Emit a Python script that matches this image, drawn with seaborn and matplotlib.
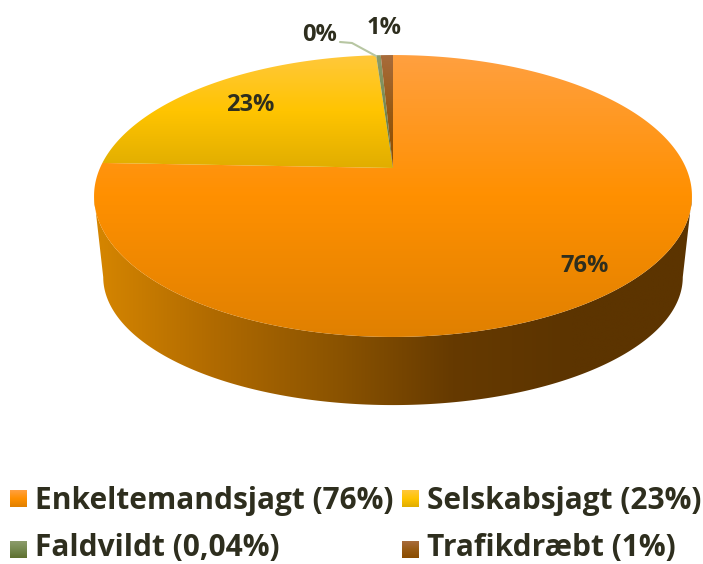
#!/usr/bin/env python
# -*- coding: utf-8 -*-
"""
3D pie of hunting categories
"""
import numpy as np
import matplotlib
matplotlib.use('Agg')
import matplotlib.pyplot as plt
from matplotlib.patches import Polygon
import seaborn as sns

# wedge sizes (clockwise from 12 o'clock)
categories = ['Enkeltemandsjagt', 'Selskabsjagt', 'Faldvildt', 'Trafikdræbt']
shares = [75.6, 23.3, 0.3, 0.8]
pie_labels = ['76%', '23%', '0%', '1%']
legend_labels = ['Enkeltemandsjagt (76%)', 'Selskabsjagt (23%)',
                 'Faldvildt (0,04%)', 'Trafikdræbt (1%)']

# top / middle / bottom of the gradient of each wedge
top_colors = [
    ['#FFA040', '#FF9000', '#E08000'],
    ['#FFC83C', '#FFC400', '#E0AD00'],
    ['#8C9C6C', '#75894F', '#5E7030'],
    ['#A86C3C', '#985A14', '#8A4C00'],
]
wall_colors = ['#D68600', '#B06A00', '#8C5400', '#663A00', '#5C3400', '#5C3400']
TEXT = '#2E2E1E'

sns.set_theme(style='white')
plt.rcParams['font.family'] = ['Open Sans', 'DejaVu Sans']

f = plt.figure(figsize=(7.03, 5.64), dpi=100)
ax = f.add_axes([0, 0, 1, 1])
ax.set_xlim(0, 703)
ax.set_ylim(564, 0)
ax.axis('off')

CX = 393
PERSP = 0.1986


def project(theta, apex_y, rx, ry):
    # theta clockwise from the top, perspective squeezes the far side
    u, v = np.sin(theta), np.cos(theta)
    w = 1 + PERSP * v
    return CX + rx * u / w, apex_y - ry * v / w


def fill_gradient(poly, colors, extent, horizontal=False):
    cmap = sns.blend_palette(colors, n_colors=256, as_cmap=True)
    ramp = np.linspace(0, 1, 256)
    ramp = ramp[None, :] if horizontal else ramp[:, None]
    im = ax.imshow(ramp, cmap=cmap, vmin=0, vmax=1, extent=extent,
                   aspect='auto', interpolation='bilinear', zorder=2)
    patch = Polygon(poly, closed=True, transform=ax.transData,
                    facecolor='none', edgecolor='none')
    ax.add_patch(patch)
    im.set_clip_path(patch)


TOP = dict(apex_y=168, rx=293, ry=135.4)
BOTTOM = dict(apex_y=251.6, rx=284, ry=123)

# side wall, only the front part shows
t_front = np.radians(np.linspace(101.5, 258.5, 300))
xt, yt = project(t_front, **TOP)
xb, yb = project(t_front, **BOTTOM)
wall = np.column_stack([np.r_[xt, xb[::-1]], np.r_[yt, yb[::-1]]])
fill_gradient(wall, wall_colors, (94, 692, 420, 150), horizontal=True)

# top surface
edges = np.radians(np.r_[0, np.cumsum(shares)] * 3.6)
for i, colors in enumerate(top_colors):
    t = np.linspace(edges[i], edges[i + 1], 400)
    xs, ys = project(t, **TOP)
    poly = np.column_stack([np.r_[CX, xs], np.r_[TOP['apex_y'], ys]])
    fill_gradient(poly, colors,
                  (poly[:, 0].min() - 1, poly[:, 0].max() + 1,
                   poly[:, 1].max() + 1, poly[:, 1].min() - 1))

ax.set_xlim(0, 703)
ax.set_ylim(564, 0)

# data labels
label_pos = [(585, 266), (250, 105), (320, 35), (384, 28)]
for (x, y), txt in zip(label_pos, pie_labels):
    ax.text(x, y, txt, ha='center', va='center', fontsize=17,
            fontweight='bold', color=TEXT, zorder=5)
ax.plot([340, 352, 376], [42, 43, 56], color='#B7C6A2', lw=1.5, zorder=4)

# legend, second row sits a bit higher so the parentheses stay inside
legend_swatch = [(10, 490), (402, 490), (10, 541), (402, 541)]
legend_baseline = [509, 509, 556, 556]
for (x, y), base, colors, txt in zip(legend_swatch, legend_baseline, top_colors, legend_labels):
    ramp = np.linspace(0, 1, 64)[:, None]
    ax.imshow(ramp, cmap=sns.blend_palette(colors, as_cmap=True),
              extent=(x, x + 17, y + 17, y), aspect='auto', zorder=3)
    ax.text(x + 25, base, txt, ha='left', va='baseline', fontsize=21.5,
            fontweight='bold', color=TEXT, zorder=5)

ax.set_xlim(0, 703)
ax.set_ylim(564, 0)
f.savefig('out.png', dpi=100, facecolor='w')
plt.close()
